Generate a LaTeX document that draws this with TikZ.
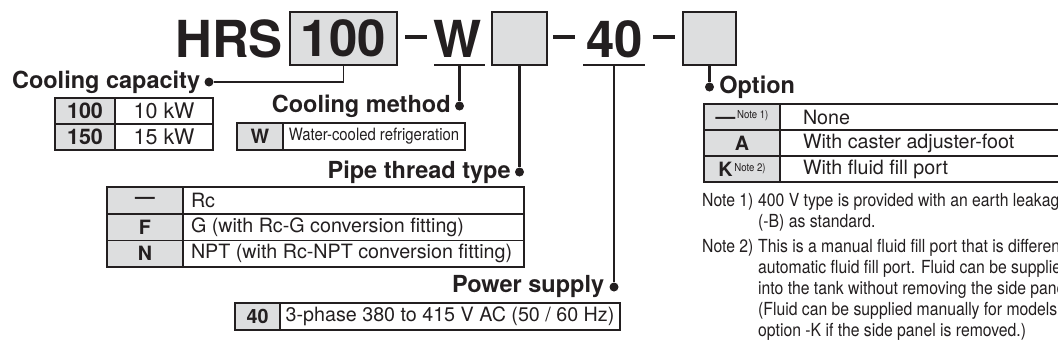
\documentclass[tikz,border=0pt]{standalone}
\usepackage{fontspec}
\setmainfont{TeX Gyre Heros}
\newfontfamily\narrowfont[FakeStretch=0.875]{TeX Gyre Heros}
\usepackage{xcolor}
\usepackage{tikz}
\usetikzlibrary{positioning}
\definecolor{ink}{RGB}{35,31,32}
\definecolor{boxgray}{RGB}{221,222,223}
\newcommand{\codefont}{\fontsize{51}{51}\selectfont\bfseries}
\newcommand{\namefont}{\fontsize{23.5}{24}\selectfont\bfseries}
\newcommand{\cellfont}{\fontsize{19.7}{20}\selectfont}
\newcommand{\bigcellfont}{\fontsize{21.5}{22}\selectfont}
\newcommand{\smallnote}[1]{\raisebox{5pt}{\narrowfont\fontsize{11}{11}\selectfont\mdseries\,#1}}
\newcommand{\lefttext}[2]{\makebox[#1][l]{#2}}

\begin{document}
\begin{tikzpicture}[
        x=1pt, y=-1pt,
        codetext/.style={inner sep=0pt, font=\codefont, text=ink},
        codebox/.style={rectangle, draw=ink, fill=boxgray, line width=2pt, minimum height=53pt, inner sep=0pt, font=\codefont, text=ink},
        dashbar/.style={fill=ink, inner sep=0pt, minimum width=22pt, minimum height=4pt},
        uline/.style={fill=ink, inner sep=0pt, minimum height=2.5pt},
        joint/.style={circle, fill=ink, inner sep=0pt, minimum size=9pt},
        itemname/.style={inner sep=0pt, font=\namefont, text=ink},
        cell/.style={rectangle, draw=ink, line width=1.8pt, outer sep=0pt, inner sep=0pt, minimum height=26pt, font=\cellfont, text=ink},
        keycell/.style={cell, fill=boxgray, font=\cellfont\bfseries},
        notes/.style={inner sep=0pt, font=\narrowfont\fontsize{18}{21}\selectfont, text=ink},
        link/.style={draw=ink, line width=2.6pt},
        thinlink/.style={draw=ink, line width=1.4pt}
    ]
        \useasboundingbox (0,0) rectangle (1058,354);
        \clip (0,0) rectangle (1058,354);

        \node[codetext, anchor=base west] (hrs) at (175,57) {HRS};
        \node[codebox, minimum width=107pt] (capbox) at (343.5,38.5) {100};
        \node[dashbar] (dash1) at (416,37) {};
        \node[codetext, anchor=base west] (wcode) at (433,57) {W};
        \node[uline, minimum width=51pt] (wline) at (459.5,65) {};
        \node[codebox, minimum width=55pt] (pipebox) at (519.5,38.5) {};
        \node[dashbar] (dash2) at (564,37) {};
        \node[codetext, anchor=base west] (forty) at (586,57) {40};
        \node[uline, minimum width=62pt] (fortyline) at (614,65) {};
        \node[dashbar] (dash3) at (664,37) {};
        \node[codebox, minimum width=53pt] (optbox) at (709.5,38.5) {};

        \node[joint] (dcap) at (209,82) {};
        \node[joint] (dmeth) at (459.5,106) {};
        \node[joint] (dpipe) at (519.5,172) {};
        \node[joint] (dpow) at (614,287) {};
        \node[joint] (dopt) at (709.5,87) {};

        \node[itemname, left=4pt of dcap] (capname) {Cooling capacity};
        \node[itemname, left=4pt of dmeth] (methname) {Cooling method};
        \node[itemname, left=4pt of dpipe] (pipename) {Pipe thread type};
        \node[itemname, left=5pt of dpow] (powname) {Power supply};
        \node[itemname, right=5pt of dopt] (optname) {Option};

        \node[keycell, minimum width=60pt, anchor=north west, font=\bigcellfont\bfseries] (cap1) at (55,98) {100};
        \node[cell, minimum width=98pt, right=0pt of cap1, font=\bigcellfont] (cap1v) {10 kW};
        \node[keycell, minimum width=60pt, below=0pt of cap1, font=\bigcellfont\bfseries] (cap2) {150};
        \node[cell, minimum width=98pt, right=0pt of cap2, font=\bigcellfont] (cap2v) {15 kW};

        \node[keycell, minimum width=46pt, minimum height=27pt, anchor=north west] (methW) at (237,123) {W};
        \node[cell, minimum width=182pt, minimum height=27pt, right=0pt of methW, font=\narrowfont\fontsize{17}{17}\selectfont] (methWv) {Water-cooled refrigeration};

        \node[keycell, minimum width=76pt, minimum height=26.7pt, anchor=north west] (pipe0) at (107,187) {\textemdash};
        \node[cell, inner xsep=8pt, minimum height=26.7pt, right=0pt of pipe0] (pipe0v) {\lefttext{325pt}{Rc}};
        \node[keycell, minimum width=76pt, minimum height=26.7pt, below=0pt of pipe0] (pipeF) {F};
        \node[cell, inner xsep=8pt, minimum height=26.7pt, right=0pt of pipeF] (pipeFv) {\lefttext{325pt}{G (with Rc-G conversion fitting)}};
        \node[keycell, minimum width=76pt, minimum height=26.7pt, below=0pt of pipeF] (pipeN) {N};
        \node[cell, inner xsep=8pt, minimum height=26.7pt, right=0pt of pipeN] (pipeNv) {\lefttext{325pt}{NPT (with Rc-NPT conversion fitting)}};

        \node[keycell, minimum width=45pt, minimum height=27pt, anchor=north west] (pow40) at (235,303) {40};
        \node[cell, minimum width=340pt, minimum height=27pt, right=0pt of pow40] (pow40v) {3-phase 380 to 415 V AC (50 / 60 Hz)};

        \node[keycell, minimum width=76pt, anchor=north west] (opt0) at (704,104) {\textemdash\smallnote{Note 1)}};
        \node[cell, inner xsep=23pt, right=0pt of opt0] (opt0v) {\lefttext{354pt}{None}};
        \node[keycell, minimum width=76pt, below=0pt of opt0] (optA) {A};
        \node[cell, inner xsep=23pt, right=0pt of optA] (optAv) {\lefttext{354pt}{With caster adjuster-foot}};
        \node[keycell, minimum width=76pt, below=0pt of optA] (optK) {K\smallnote{Note 2)}};
        \node[cell, inner xsep=23pt, right=0pt of optK] (optKv) {\lefttext{354pt}{With fluid fill port}};

        \node[notes, anchor=north west] (notetext) at (702,191.5) {%
            \begin{tabular}{@{}p{56pt}@{}l@{}}
                Note 1) & 400 V type is provided with an earth leakag\\
                        & (-B) as standard.\\[4pt]
                Note 2) & This is a manual fluid fill port that is differen\\
                        & automatic fluid fill port. Fluid can be supplie\\
                        & into the tank without removing the side pane\\
                        & (Fluid can be supplied manually for models\\
                        & option -K if the side panel is removed.)
            \end{tabular}};

        \draw[thinlink] (capbox.south) |- (dcap);
        \draw[link] (wline.center) -- (dmeth);
        \draw[link] (pipebox.south) -- (dpipe);
        \draw[link] (fortyline.center) -- (dpow);
        \draw[link] (optbox.south) -- (dopt);
    \end{tikzpicture}
\end{document}
